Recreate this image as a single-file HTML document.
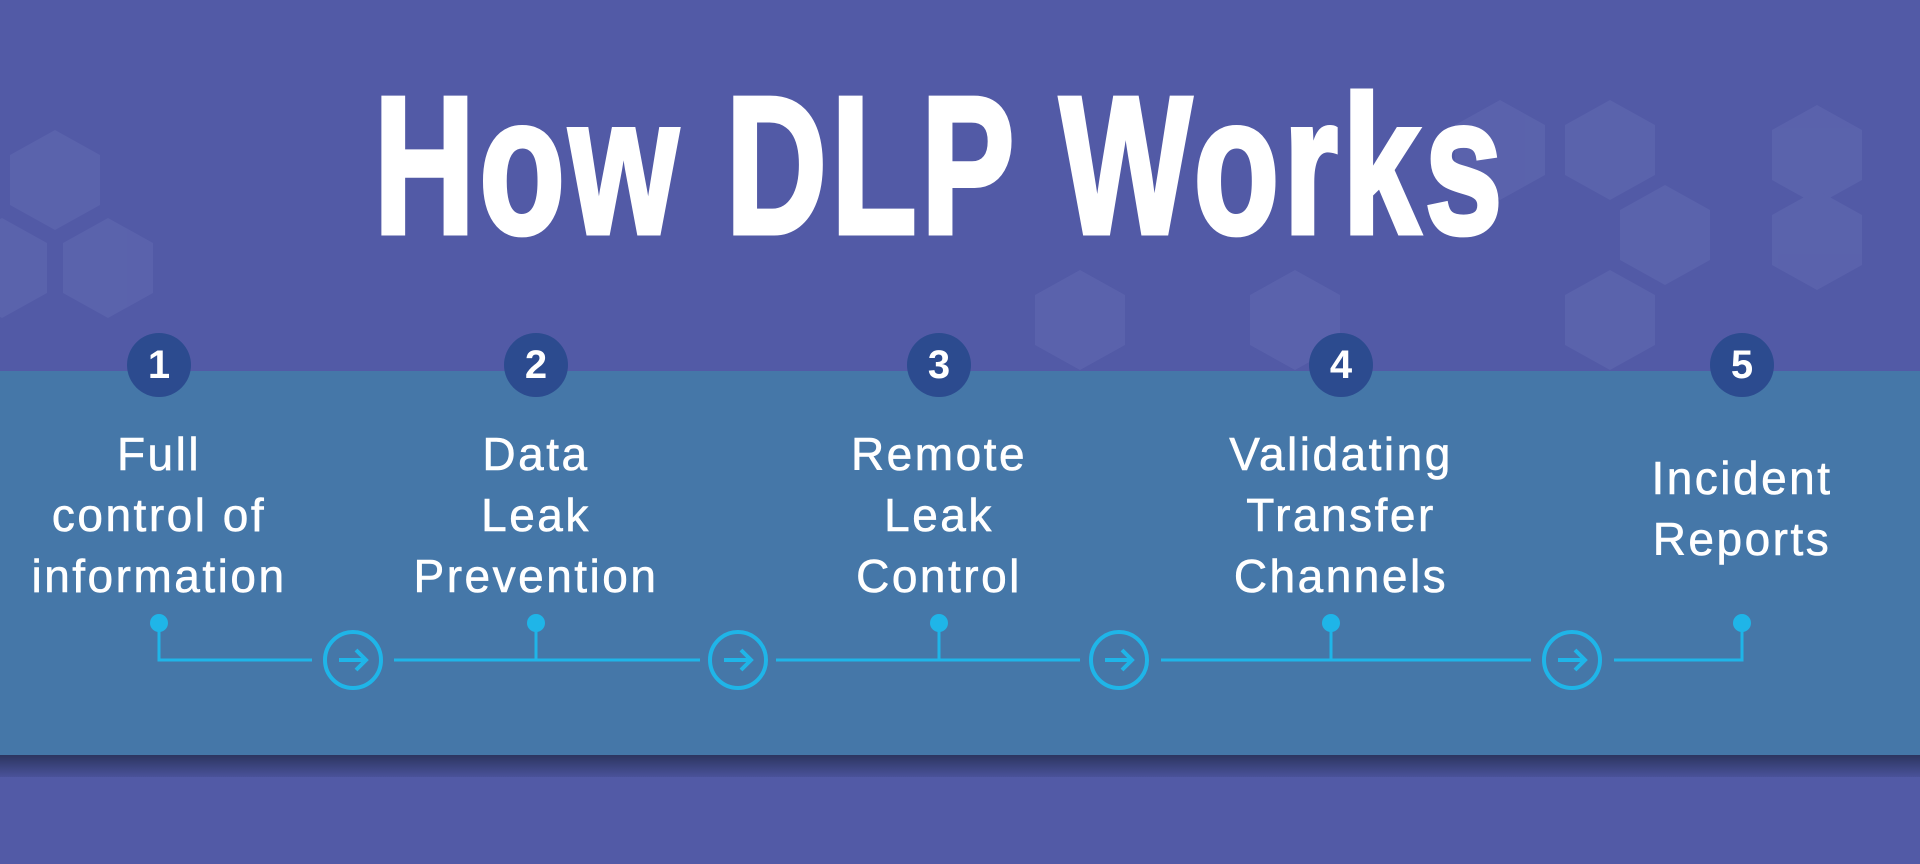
<!DOCTYPE html>
<html><head><meta charset="utf-8"><style>
html,body{margin:0;padding:0}
body{width:1920px;height:864px;overflow:hidden;background:#525aa6;position:relative;font-family:"Liberation Sans",sans-serif}
.t{position:absolute;left:-20px;top:68px;width:1920px;text-align:center;color:#fff;font-weight:bold;font-size:196px;line-height:196px;letter-spacing:6px;-webkit-text-stroke:5px #fff}
.t span{display:inline-block;transform:scaleX(0.715)}
.band{position:absolute;left:0;top:371px;width:1920px;height:384px;background:#4577a8}
.sh{position:absolute;left:0;top:755px;width:1920px;height:22px;background:linear-gradient(#2c3560,#4a529a)}
.n{position:absolute;width:64px;height:64px;border-radius:50%;background:#2c4b8f;color:#fff;font-size:40px;font-weight:bold;line-height:64px;text-align:center;top:333px}
.l{position:absolute;width:340px;text-align:center;color:#fff;font-size:46px;line-height:61px;letter-spacing:2.5px;-webkit-text-stroke:0.6px #fff}
</style></head><body>
<svg style="position:absolute;left:0;top:0" width="1920" height="864">
<g fill="#6a74b8" opacity="0.35">
<polygon points="55,130 100,155 100,205 55,230 10,205 10,155"/>
<polygon points="108,218 153,243 153,293 108,318 63,293 63,243"/>
<polygon points="2,218 47,243 47,293 2,318 -43,293 -43,243"/>
<polygon points="1610,100 1655,125 1655,175 1610,200 1565,175 1565,125"/>
<polygon points="1665,185 1710,210 1710,260 1665,285 1620,260 1620,210"/>
<polygon points="1817,105 1862,130 1862,180 1817,205 1772,180 1772,130"/>
<polygon points="1817,190 1862,215 1862,265 1817,290 1772,265 1772,215"/>
<polygon points="1610,270 1655,295 1655,345 1610,370 1565,345 1565,295"/>
<polygon points="1080,270 1125,295 1125,345 1080,370 1035,345 1035,295"/>
<polygon points="1295,270 1340,295 1340,345 1295,370 1250,345 1250,295"/>
<polygon points="1500,100 1545,125 1545,175 1500,200 1455,175 1455,125"/>
</g></svg>
<div class="t"><span>How DLP Works</span></div>
<div class="band"></div><div class="sh"></div>
<div class="n" style="left:127px">1</div>
<div class="n" style="left:504px">2</div>
<div class="n" style="left:907px">3</div>
<div class="n" style="left:1309px">4</div>
<div class="n" style="left:1710px">5</div>
<div class="l" style="left:-11px;top:424px">Full<br>control of<br>information</div>
<div class="l" style="left:366px;top:424px">Data<br>Leak<br>Prevention</div>
<div class="l" style="left:769px;top:424px">Remote<br>Leak<br>Control</div>
<div class="l" style="left:1171px;top:424px">Validating<br>Transfer<br>Channels</div>
<div class="l" style="left:1572px;top:448px">Incident<br>Reports</div>
<svg style="position:absolute;left:0;top:0" width="1920" height="864">
<g stroke="#1fb5e8" stroke-width="3" fill="none">
<path d="M159,623 V660 H312"/><path d="M394,660 H700 M536,623 V660"/>
<path d="M776,660 H1080 M939,623 V660"/><path d="M1161,660 H1531 M1331,623 V660"/>
<path d="M1614,660 H1742 V623"/>
<g stroke-width="4">
<circle cx="353" cy="660" r="28"/><circle cx="738" cy="660" r="28"/><circle cx="1119" cy="660" r="28"/><circle cx="1572" cy="660" r="28"/>
<path d="M339,660 H366 M356,650 L366,660 L356,670"/>
<path d="M724,660 H751 M741,650 L751,660 L741,670"/>
<path d="M1105,660 H1132 M1122,650 L1132,660 L1122,670"/>
<path d="M1558,660 H1585 M1575,650 L1585,660 L1575,670"/>
</g></g>
<g fill="#1fb5e8"><circle cx="159" cy="623" r="9"/><circle cx="536" cy="623" r="9"/><circle cx="939" cy="623" r="9"/><circle cx="1331" cy="623" r="9"/><circle cx="1742" cy="623" r="9"/></g>
</svg>
</body></html>
